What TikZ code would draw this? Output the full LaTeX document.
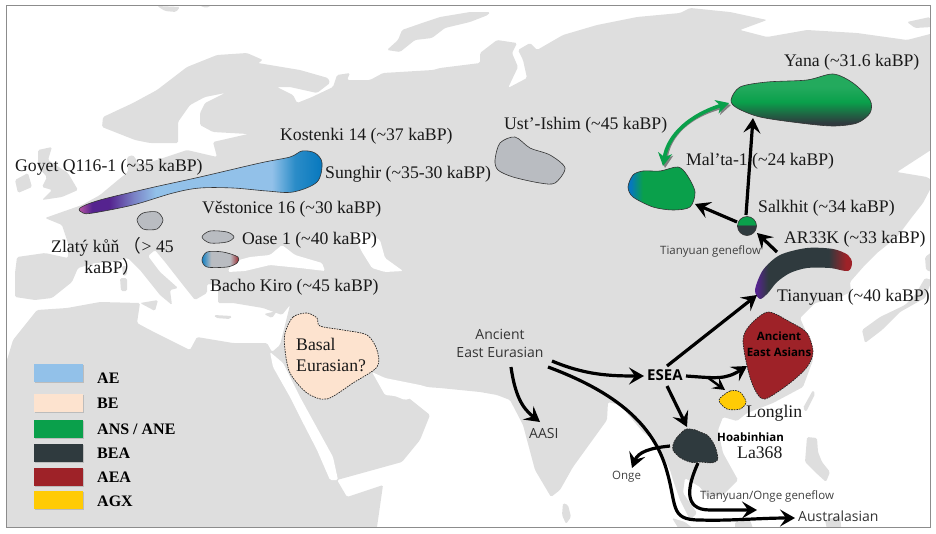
\documentclass[tikz,border=0pt]{standalone}
\usepackage{fontspec}
\setmainfont{Liberation Serif}
\setsansfont{Open Sans}
\newfontfamily\cjk{Noto Sans CJK SC}
\usetikzlibrary{arrows.meta,shadows}
\definecolor{landgray}{HTML}{DEDEDE}
\definecolor{siteblue}{HTML}{92C1E9}
\definecolor{deepblue}{HTML}{0678BE}
\definecolor{sitepeach}{HTML}{FDE3CF}
\definecolor{sitegreen}{HTML}{0AA04B}
\definecolor{sitedark}{HTML}{2F3A3E}
\definecolor{sitered}{HTML}{9E2228}
\definecolor{siteyellow}{HTML}{FFCB05}
\definecolor{sitegrey}{HTML}{B9BCC1}
\definecolor{sitepurple}{HTML}{55238F}
\definecolor{sitepink}{HTML}{C45AA5}
\pgfdeclarehorizontalshading{kostenkishade}{100bp}{color(0bp)=(sitepink); color(25bp)=(sitepink); color(28bp)=(sitepurple); color(31.5bp)=(sitepurple); color(36.5bp)=(siteblue!60!sitepurple); color(41bp)=(siteblue); color(64.7bp)=(siteblue); color(69.4bp)=(deepblue!85!white); color(75bp)=(deepblue); color(100bp)=(deepblue)}
\pgfdeclarehorizontalshading{bachoshade}{100bp}{color(0bp)=(deepblue); color(26bp)=(deepblue!90!white); color(37bp)=(sitegrey); color(62bp)=(sitegrey); color(74bp)=(sitered); color(100bp)=(sitered)}
\pgfdeclarehorizontalshading{maltashade}{100bp}{color(0bp)=(deepblue); color(27bp)=(deepblue); color(36bp)=(sitegreen); color(100bp)=(sitegreen)}
\pgfdeclareverticalshading{yanashade}{100bp}{color(0bp)=(sitedark); color(28bp)=(sitedark); color(48bp)=(sitegreen); color(62bp)=(sitegreen!90!white); color(100bp)=(sitegreen!90!white)}
\pgfdeclarehorizontalshading{tianyuanshade}{100bp}{color(0bp)=(sitepurple); color(26bp)=(sitepurple); color(32bp)=(sitedark); color(63bp)=(sitedark); color(72bp)=(sitered); color(100bp)=(sitered)}
\pgfdeclareverticalshading{salkhitshade}{100bp}{color(0bp)=(sitedark); color(53bp)=(sitedark); color(53.5bp)=(sitegreen); color(100bp)=(sitegreen)}
\tikzset{
  land/.style={fill=landgray,rounded corners=1.5pt},
  seawater/.style={fill=white,rounded corners=1.5pt},
  blobline/.style={draw=black!80,line width=0.6pt},
  dashblob/.style={draw=black!85,line width=0.7pt,dash pattern=on 1.6pt off 1pt},
  flow/.style={draw=black,line width=3.2pt,-{Stealth[length=15pt,width=17pt,inset=6pt]}},
  gflow/.style={line width=3.6pt,{Stealth[length=13pt,width=14pt,inset=4pt]}-{Stealth[length=13pt,width=14pt,inset=4pt]}},
  swatch/.style={minimum width=49pt,minimum height=18pt,inner sep=0pt,anchor=north west,drop shadow={shadow xshift=0.3pt,shadow yshift=-1pt,fill=black!35,opacity=0.6}},
  keylabel/.style={font=\fontsize{16}{18}\selectfont\bfseries,anchor=west,inner sep=0pt},
  sitelabel/.style={font=\fontsize{17.7}{21}\selectfont,anchor=west,inner sep=0pt,text=black!90},
  sanslabel/.style={font=\sffamily\fontsize{14}{18}\selectfont,anchor=west,inner sep=0pt,text=black!80},
  smalllabel/.style={font=\sffamily\fontsize{11.5}{12}\selectfont,anchor=west,inner sep=0pt,text=black!75},
}
\begin{document}
\begin{tikzpicture}[x=1pt,y=-1pt]
\useasboundingbox (0,0) rectangle (936,533);
%Map
\begin{scope}
\clip (6,5) rectangle (930,527);
\path[land] (15,297) -- (15,273) -- (17,257) -- (45,253) -- (68,258) -- (68,243) -- (62,225) -- (45,218) -- (62,212) -- (82,205) -- (100,195) -- (118,180) -- (128,172) -- (127,157) -- (133,155) -- (140,165) -- (157,160) -- (187,150) -- (217,157) -- (213,142) -- (248,134) -- (213,132) -- (200,125) -- (200,113) -- (205,103) -- (225,93) -- (205,97) -- (190,105) -- (178,122) -- (178,143) -- (150,143) -- (135,140) -- (102,127) -- (103,117) -- (133,103) -- (157,90) -- (187,67) -- (217,55) -- (247,53) -- (263,60) -- (258,63) -- (300,70) -- (328,78) -- (330,83) -- (317,93) -- (290,87) -- (277,87) -- (293,95) -- (297,103) -- (312,97) -- (333,87) -- (337,75) -- (350,73) -- (347,80) -- (370,80) -- (383,73) -- (433,70) -- (440,68) -- (480,63) -- (480,53) -- (497,40) -- (517,43) -- (512,53) -- (518,67) -- (508,88) -- (527,78) -- (523,60) -- (518,50) -- (530,43) -- (537,50) -- (563,35) -- (597,25) -- (637,17) -- (680,13) -- (690,8) -- (730,12) -- (767,20) -- (740,30) -- (767,37) -- (807,30) -- (857,33) -- (907,40) -- (934,33) -- (934,148) -- (897,172) -- (927,177) -- (934,182) -- (923,203) -- (912,217) -- (897,237) -- (877,253) -- (865,265) -- (850,282) -- (851,292) -- (838,298) -- (815,303) -- (800,318) -- (812,345) -- (813,360) -- (803,387) -- (773,403) -- (747,413) -- (737,421) -- (723,417) -- (718,430) -- (723,453) -- (738,480) -- (723,495) -- (707,497) -- (700,487) -- (685,478) -- (683,493) -- (697,513) -- (690,520) -- (680,500) -- (673,480) -- (670,470) -- (657,443) -- (643,432) -- (620,405) -- (608,402) -- (607,420) -- (573,467) -- (560,490) -- (551,497) -- (535,470) -- (523,425) -- (510,400) -- (497,395) -- (480,392) -- (440,388) -- (410,386) -- (405,395) -- (430,415) -- (420,440) -- (402,462) -- (337,480) -- (347,497) -- (383,485) -- (376,534) -- (0,534) -- (0,360) -- (7,360) -- (13,340) -- (37,310) -- (67,308) -- (100,302) -- (140,303) -- (137,323) -- (150,330) -- (190,350) -- (197,337) -- (233,343) -- (267,343) -- (272,352) -- (280,345) -- (285,325) -- (290,305) -- (282,315) -- (263,308) -- (233,303) -- (218,303) -- (218,285) -- (207,284) -- (207,293) -- (195,300) -- (183,285) -- (165,262) -- (155,250) -- (148,256) -- (160,272) -- (178,288) -- (170,290) -- (172,305) -- (160,295) -- (140,270) -- (128,258) -- (112,262) -- (95,263) -- (78,268) -- (72,282) -- (52,298) -- (35,300) -- cycle;
%Islands
\path[land] (38,150) -- (52,147) -- (48,160) -- (68,173) -- (78,190) -- (62,197) -- (42,200) -- (52,190) -- (42,187) -- (47,177) -- (38,167) -- cycle;
\path[land] (15,180) -- (28,173) -- (32,187) -- (18,193) -- cycle;
\path[land] (157,6) -- (180,7) -- (176,12) -- (165,11) -- cycle;
\path[land] (198,5) -- (212,5) -- (206,8) -- cycle;
\path[land] (387,50) -- (398,40) -- (402,30) -- (425,22) -- (440,17) -- (470,12) -- (490,12) -- (488,15) -- (470,22) -- (445,28) -- (432,38) -- (415,40) -- (400,52) -- cycle;
\path[land] (907,22) -- (930,17) -- (932,27) -- (915,28) -- cycle;
\path[land] (925,257) -- (932,252) -- (932,272) -- (926,270) -- cycle;
\path[land] (925,278) -- (932,280) -- (925,298) -- (900,312) -- (882,330) -- (865,343) -- (862,330) -- (880,317) -- (905,305) -- (915,295) -- cycle;
\path[land] (122,266) -- (127,266) -- (127,275) -- (123,276) -- cycle;
\path[land] (120,278) -- (127,278) -- (127,291) -- (121,291) -- cycle;
\path[land] (140,303) -- (158,300) -- (155,311) -- cycle;
\path[land] (214,315) -- (232,316) -- (230,319) -- (216,318) -- cycle;
\path[land] (264,314) -- (277,311) -- (272,318) -- cycle;
\path[land] (563,503) -- (568,505) -- (571,517) -- (566,524) -- (562,515) -- cycle;
\path[land] (813,390) -- (815,394) -- (806,412) -- (803,408) -- cycle;
\path[land] (807,437) -- (817,438) -- (818,452) -- (822,462) -- (830,472) -- (826,482) -- (815,472) -- (805,462) -- cycle;
\path[land] (672,518) -- (685,522) -- (700,534) -- (682,534) -- cycle;
\path[land] (825,520) -- (840,516) -- (842,534) -- (828,534) -- cycle;
\path[land] (735,522) -- (750,520) -- (755,534) -- (735,534) -- cycle;
%Inner seas
\path[seawater] (228,272) -- (232,262) -- (250,257) -- (270,255) -- (282,245) -- (295,255) -- (322,263) -- (325,271) -- (300,268) -- (270,265) -- (245,271) -- cycle;
\path[seawater] (352,232) -- (365,232) -- (380,240) -- (385,258) -- (403,271) -- (385,272) -- (372,268) -- (362,252) -- cycle;
\path[seawater] (270,352) -- (283,363) -- (300,397) -- (333,457) -- (338,480) -- (330,480) -- (317,450) -- (300,417) -- (290,397) -- (273,367) -- cycle;
\path[seawater] (372,372) -- (385,378) -- (420,385) -- (445,392) -- (445,398) -- (420,395) -- (405,400) -- (395,396) -- (385,395) -- cycle;
\end{scope}
\draw[black!45,line width=1pt] (6,5) rectangle (930,527);
%Regions
\shadedraw[blobline,shading=kostenkishade] plot[smooth cycle,tension=0.55] coordinates {(80,208) (100,200) (150,188) (200,177) (260,163) (290,157) (302,151) (315,153) (322,163) (317,182) (293,192) (267,191) (233,188) (200,188) (173,193) (133,205) (93,213) (83,213)};
\filldraw[blobline,fill=sitegrey] plot[smooth cycle] coordinates {(137,220) (143,213) (157,212) (163,220) (157,229) (143,229)};
\filldraw[blobline,fill=sitegrey] plot[smooth cycle] coordinates {(202,237) (210,231) (227,232) (234,237) (227,242) (210,243)};
\shadedraw[blobline,shading=bachoshade] plot[smooth cycle] coordinates {(202,260) (207,252) (223,252) (238,257) (237,263) (227,267) (207,267)};
\filldraw[blobline,fill=sitegrey] plot[smooth cycle] coordinates {(495,160) (500,143) (515,137) (530,148) (550,155) (565,168) (555,183) (540,183) (513,177) (498,170)};
\filldraw[dashblob,fill=sitepeach] plot[smooth cycle] coordinates {(285,333) (293,317) (307,313) (317,318) (320,326) (343,330) (367,335) (377,350) (377,367) (353,383) (327,399) (307,393) (290,373) (285,350)};
\shadedraw[blobline,shading=yanashade] plot[smooth cycle] coordinates {(731,100) (740,87) (767,82) (807,80) (833,74) (853,83) (870,100) (870,113) (857,123) (833,126) (800,123) (760,117) (737,108)};
\shadedraw[blobline,shading=maltashade] plot[smooth cycle] coordinates {(628,187) (633,175) (643,171) (660,171) (678,167) (687,175) (695,192) (690,207) (673,210) (653,207) (633,197)};
\shadedraw[blobline,shading=salkhitshade] (747,226) circle (9.5);
\shade[shading=tianyuanshade] plot[smooth cycle] coordinates {(755,290) (763,270) (780,255) (807,248) (833,249) (848,255) (852,263) (848,271) (830,268) (807,268) (790,273) (777,282) (768,293) (760,299)};
\filldraw[dashblob,fill=sitered] plot[smooth cycle] coordinates {(768,312) (790,322) (807,333) (813,352) (807,367) (790,383) (765,399) (755,390) (748,370) (743,340) (750,325)};
\filldraw[dashblob,fill=siteyellow] plot[smooth cycle] coordinates {(719,400) (730,391) (740,392) (746,402) (740,409) (727,409)};
\filldraw[dashblob,fill=sitedark] plot[smooth cycle,tension=0.8] coordinates {(673,445) (682,432) (690,429) (700,432) (710,438) (717,453) (715,462) (700,462) (690,462) (677,455)};
%Legend
\node[swatch,fill=siteblue] (keyAE) at (34,364) {};
\node[swatch,fill=sitepeach] (keyBE) at (34,394) {};
\node[swatch,fill=sitegreen] (keyANS) at (34,420) {};
\node[swatch,fill=sitedark] (keyBEA) at (34,444) {};
\node[swatch,fill=sitered] (keyAEA) at (34,468) {};
\node[swatch,fill=siteyellow] (keyAGX) at (34,491) {};
\node[keylabel] (txtAE) at (97,378) {AE};
\node[keylabel] (txtBE) at (97,403) {BE};
\node[keylabel] (txtANS) at (97,429) {ANS / ANE};
\node[keylabel] (txtBEA) at (97,453) {BEA};
\node[keylabel] (txtAEA) at (97,477) {AEA};
\node[keylabel] (txtAGX) at (97,501) {AGX};
%Text
\node[sitelabel] (kostenki) at (280,136) {Kostenki 14 (\textasciitilde37 kaBP)};
\node[sitelabel] (goyet) at (15,167) {Goyet Q116-1 (\textasciitilde35 kaBP)};
\node[sitelabel] (sunghir) at (325,174) {Sunghir (\textasciitilde35-30 kaBP)};
\node[sitelabel] (vestonice) at (202,209) {Věstonice 16 (\textasciitilde30 kaBP)};
\node[sitelabel] (oase) at (242,240) {Oase 1 (\textasciitilde40 kaBP)};
\node[sitelabel] (bacho) at (210,287) {Bacho Kiro (\textasciitilde45 kaBP)};
\node[sitelabel,align=center] (zlaty) at (51,256) {Zlatý kůň {\cjk （}> 45\\kaBP{\cjk ）}};
\node[sitelabel] (ustishim) at (504,125) {Ust’-Ishim (\textasciitilde45 kaBP)};
\node[sitelabel] (yana) at (784,62) {Yana (\textasciitilde31.6 kaBP)};
\node[sitelabel] (malta) at (686,161) {Mal’ta-1 (\textasciitilde24 kaBP)};
\node[sitelabel] (salkhit) at (758,208) {Salkhit (\textasciitilde34 kaBP)};
\node[sitelabel] (arthree) at (784,239) {AR33K (\textasciitilde33 kaBP)};
\node[sitelabel] (tianyuan) at (777,297) {Tianyuan (\textasciitilde40 kaBP)};
\node[sitelabel,align=left] (basal) at (296,354.5) {Basal\\Eurasian?};
\node[sitelabel] (longlin) at (746,413) {Longlin};
\node[sitelabel] (lathree) at (737,453) {La368};
\node[sanslabel,align=center,anchor=center] (ancient) at (500,343) {Ancient\\East Eurasian};
\node[sanslabel,font=\sffamily\bfseries\fontsize{15}{15}\selectfont,text=black] (esea) at (647,375) {ESEA};
\node[sanslabel] (aasi) at (529,433) {AASI};
\node[sanslabel] (australasian) at (798,516) {Australasian};
\node[smalllabel] (onge) at (612,477) {Onge};
\node[smalllabel] (tianflow) at (660,251) {Tianyuan geneflow};
\node[smalllabel] (ongeflow) at (700,496) {Tianyuan/Onge geneflow};
\node[smalllabel,font=\sffamily\bfseries\fontsize{11.5}{12}\selectfont,text=black] (hoabin) at (717,437) {Hoabinhian};
\node[smalllabel,font=\sffamily\bfseries\fontsize{11.5}{16}\selectfont,text=black,align=center,anchor=center] (aeatext) at (779,344) {Ancient\\East Asians};
%Arrows
\coordinate (aeStart) at (552,361);
\coordinate (eseaIn) at (644,376);
\coordinate (ausStart) at (548,367);
\coordinate (ausEnd) at (795,518);
\coordinate (aasiStart) at (511,367);
\coordinate (aasiEnd) at (540,422);
\coordinate (eseaNorth) at (667,366);
\coordinate (tyEnd) at (757,295);
\coordinate (eseaEast) at (686,376);
\coordinate (aeaEnd) at (747,366);
\coordinate (llStart) at (707,377);
\coordinate (llEnd) at (725,390);
\coordinate (eseaSouth) at (667,386);
\coordinate (hbEnd) at (687,427);
\coordinate (hbWest) at (670,446);
\coordinate (ongeEnd) at (632,468);
\coordinate (hbSouth) at (698,463);
\coordinate (gfEnd) at (757,510);
\coordinate (skWest) at (737,222);
\coordinate (mtEnd) at (695,204);
\coordinate (skNorth) at (746,215);
\coordinate (ynEnd) at (753,118);
\coordinate (tyStart) at (777,252);
\coordinate (skEnd) at (757,233);
\coordinate (ynWest) at (729,103);
\coordinate (mtNorth) at (663,166);
\draw[flow] (aeStart) .. controls (585,375) and (610,376) .. (eseaIn);
\draw[flow] (ausStart) .. controls (610,390) and (650,420) .. (665,465) .. controls (678,505) and (668,520) .. (700,520) .. controls (730,521) and (760,518) .. (ausEnd);
\draw[flow] (aasiStart) .. controls (515,395) and (522,408) .. (aasiEnd);
\draw[flow] (eseaNorth) -- (tyEnd);
\draw[flow] (eseaEast) .. controls (715,378) and (725,380) .. (aeaEnd);
\draw[flow,line width=2.4pt,-{Stealth[length=12pt,width=13pt,inset=5pt]}] (llStart) -- (llEnd);
\draw[flow] (eseaSouth) -- (hbEnd);
\draw[flow] (hbWest) .. controls (650,448) and (638,452) .. (ongeEnd);
\draw[flow] (hbSouth) .. controls (688,485) and (682,510) .. (710,510) -- (gfEnd);
\draw[flow] (skWest) -- (mtEnd);
\draw[flow] (skNorth) -- (ynEnd);
\draw[flow] (tyStart) -- (skEnd);
\draw[gflow,black!50] ([shift={(2,2)}]ynWest) .. controls (690,115) and (668,135) .. ([shift={(2,2)}]mtNorth);
\draw[gflow,sitegreen] (ynWest) .. controls (690,115) and (668,135) .. (mtNorth);
\end{tikzpicture}
\end{document}
